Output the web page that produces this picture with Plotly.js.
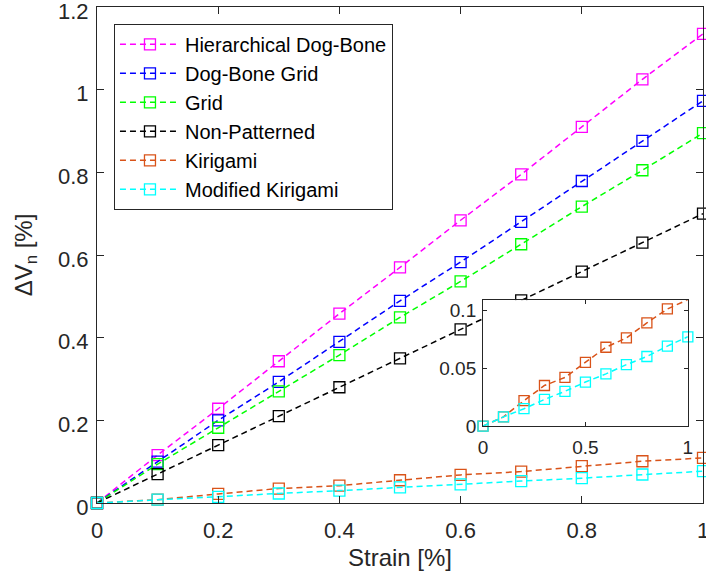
<!DOCTYPE html>
<html>
<head>
<meta charset="utf-8">
<script src="https://cdn.plot.ly/plotly-3.0.1.min.js"></script>
<style>
  html, body { margin: 0; padding: 0; background: #fff; }
  #chart { width: 706px; height: 581px; }
</style>
</head>
<body>
<div id="chart"></div>
<script>
// Strain levels [%]
const strain = [0, 0.1, 0.2, 0.3, 0.4, 0.5, 0.6, 0.7, 0.8, 0.9, 1.0];

// Normalised voltage change ΔVn [%] for each pattern
const hierarchicalDogBone = [0, 0.116, 0.228, 0.343, 0.458, 0.570, 0.684, 0.795, 0.910, 1.025, 1.135];
const dogBoneGrid         = [0, 0.100, 0.200, 0.293, 0.390, 0.489, 0.583, 0.680, 0.779, 0.876, 0.973];
const grid                = [0, 0.094, 0.182, 0.270, 0.358, 0.449, 0.536, 0.626, 0.717, 0.805, 0.895];
const nonPatterned        = [0, 0.070, 0.140, 0.210, 0.280, 0.350, 0.420, 0.490, 0.560, 0.630, 0.700];
const kirigami            = [0, 0.008, 0.022, 0.035, 0.042, 0.055, 0.068, 0.076, 0.089, 0.101, 0.109];
const modifiedKirigami    = [0, 0.008, 0.015, 0.023, 0.030, 0.038, 0.045, 0.053, 0.060, 0.069, 0.077];

const seriesNames  = ['Hierarchical Dog-Bone', 'Dog-Bone Grid', 'Grid', 'Non-Patterned', 'Kirigami', 'Modified Kirigami'];
const seriesValues = [hierarchicalDogBone, dogBoneGrid, grid, nonPatterned, kirigami, modifiedKirigami];
const seriesColors = ['#ff00ff', '#0000ff', '#00ff00', '#000000', '#d95319', '#00ffff'];

const mainTicksX = [0, 0.2, 0.4, 0.6, 0.8, 1];
const mainTicksY = [0, 0.2, 0.4, 0.6, 0.8, 1, 1.2];
const insetTicksX = [0, 0.5, 1];
const insetTicksY = [0, 0.05, 0.1];

const axisColor = '#262626';
const fontFamily = 'Liberation Sans, Arial, Helvetica, sans-serif';

function makeTrace(i, xa, ya, showLegend, msize) {
  return {
    x: strain,
    y: seriesValues[i],
    name: seriesNames[i],
    type: 'scatter',
    mode: 'lines+markers',
    xaxis: xa,
    yaxis: ya,
    showlegend: showLegend,
    cliponaxis: false,
    line: { color: seriesColors[i], width: 1.5, dash: '6px,4px' },
    marker: { symbol: 'square-open', size: msize, color: seriesColors[i], line: { width: 1.3, color: seriesColors[i] } }
  };
}

const traces = [];
for (let i = 0; i < seriesNames.length; i++) traces.push(makeTrace(i, 'x', 'y', true, 11));
// Inset: the two Kirigami series on a zoomed scale
traces.push(makeTrace(4, 'x2', 'y2', false, 10));
traces.push(makeTrace(5, 'x2', 'y2', false, 10));

const baseAxis = {
  showgrid: false,
  zeroline: false,
  showline: true,
  mirror: 'ticks',
  linecolor: axisColor,
  linewidth: 1,
  ticks: 'inside',
  tickcolor: axisColor,
  tickwidth: 1,
  color: axisColor,
  ticklabeloverflow: 'allow'
};

const layout = {
  width: 706,
  height: 581,
  margin: { l: 97, r: 3, t: 7, b: 78 },
  paper_bgcolor: '#ffffff',
  plot_bgcolor: '#ffffff',
  font: { family: fontFamily, color: axisColor, size: 22 },
  xaxis: Object.assign({}, baseAxis, {
    domain: [0, 1],
    range: [0, 1],
    tickvals: mainTicksX,
    ticktext: mainTicksX.map(String),
    ticklen: 7,
    ticklabelstandoff: 8,
    tickfont: { size: 22 },
    title: { text: 'Strain [%]', font: { size: 24 }, standoff: 6 }
  }),
  yaxis: Object.assign({}, baseAxis, {
    domain: [0, 1],
    range: [0, 1.2],
    tickvals: mainTicksY,
    ticktext: mainTicksY.map(String),
    ticklen: 7,
    ticklabelstandoff: 3,
    ticklabelshift: 4,
    tickfont: { size: 22 },
    title: { text: 'ΔV<sub>n</sub> [%]', font: { size: 24 }, standoff: 18 }
  }),
  xaxis2: Object.assign({}, baseAxis, {
    domain: [0.637, 0.975],
    range: [0, 1],
    anchor: 'y2',
    tickvals: insetTicksX,
    ticktext: insetTicksX.map(String),
    ticklen: 4,
    ticklabelstandoff: 4,
    tickfont: { size: 19 }
  }),
  yaxis2: Object.assign({}, baseAxis, {
    domain: [0.155, 0.409],
    range: [0, 0.1086],
    anchor: 'x2',
    tickvals: insetTicksY,
    ticktext: insetTicksY.map(String),
    ticklen: 4,
    ticklabelstandoff: 2,
    tickfont: { size: 19 }
  }),
  legend: {
    x: 0.028,
    y: 0.966,
    xanchor: 'left',
    yanchor: 'top',
    bgcolor: '#ffffff',
    bordercolor: axisColor,
    borderwidth: 1,
    itemwidth: 60,
    font: { size: 20, color: '#000000' },
    tracegroupgap: 0
  },
  showlegend: true
};

Plotly.newPlot('chart', traces, layout, { displayModeBar: false, staticPlot: true });
</script>
</body>
</html>
